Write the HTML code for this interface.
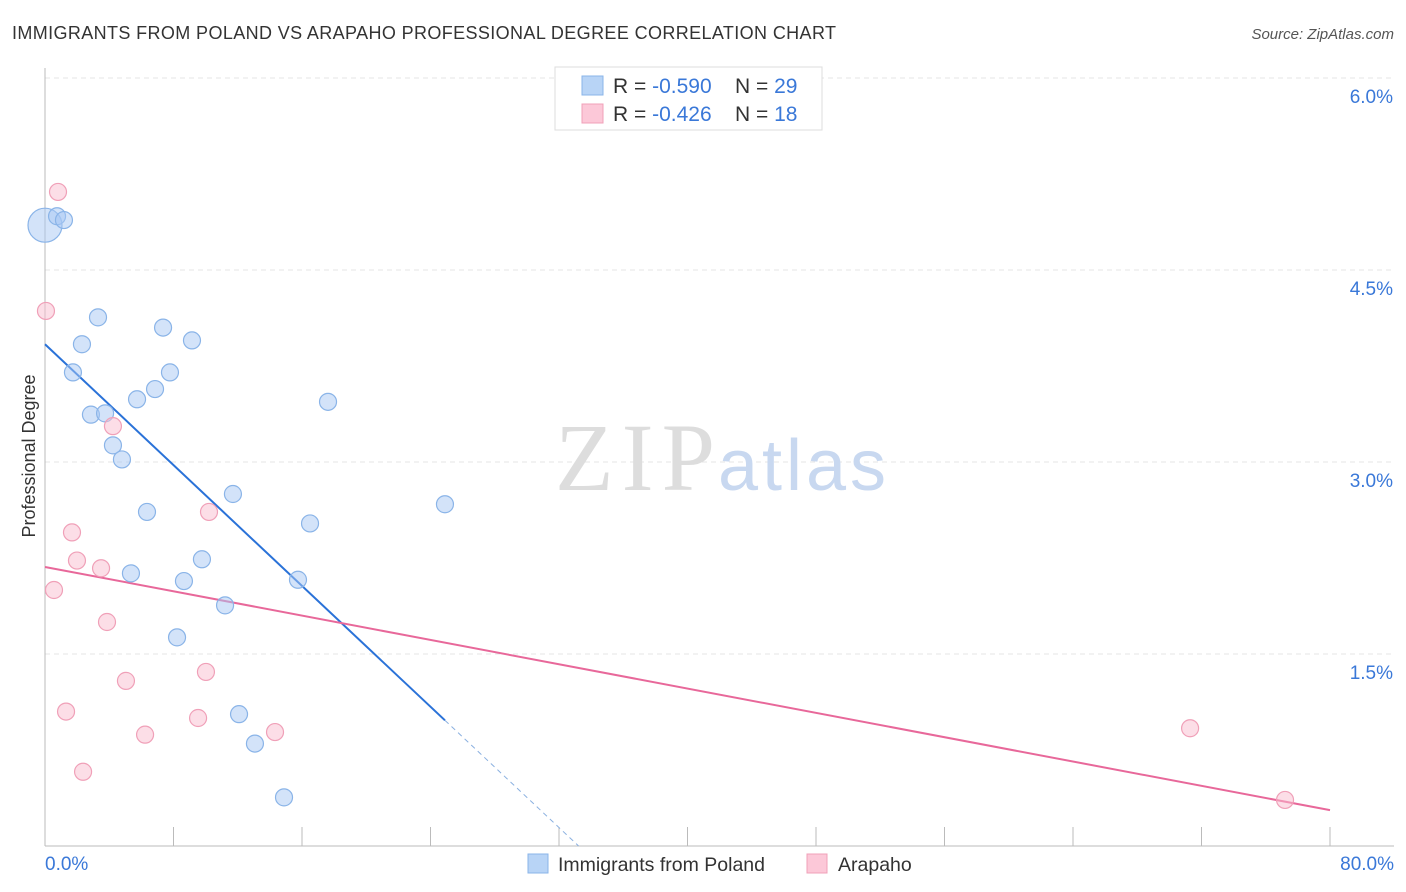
<!DOCTYPE html>
<html><head><meta charset="utf-8"><style>
body{margin:0;background:#fff;font-family:"Liberation Sans",sans-serif;}
svg{display:block}
</style></head><body>
<svg id="chart" width="1406" height="892">
<text x="12" y="39" font-size="18" fill="#333" textLength="824">IMMIGRANTS FROM POLAND VS ARAPAHO PROFESSIONAL DEGREE CORRELATION CHART</text>
<text x="1394" y="39" font-size="15" fill="#555" font-style="italic" text-anchor="end">Source: ZipAtlas.com</text>
<text x="35" y="456" font-size="18" fill="#333" text-anchor="middle" transform="rotate(-90 35 456)">Professional Degree</text>
<g id="grid"></g>
<text x="555" y="490" font-size="96" fill="#ddd" font-family="Liberation Serif,serif" textLength="160">ZIP</text>
<text x="718" y="490" font-size="72" fill="#c8d8f0" textLength="168">atlas</text>
<g id="lines"></g>
<g id="points"></g>
<g>
<rect x="555" y="67" width="267" height="63" fill="#fff" stroke="#ddd"/>
<rect x="582" y="76" width="21" height="19" fill="#b8d4f6" stroke="#8ab4e8"/>
<rect x="582" y="104" width="21" height="19" fill="#fcc8d8" stroke="#f0a0b8"/>
<text x="613" y="93" font-size="21" fill="#333">R = <tspan fill="#3a78d8">-0.590</tspan><tspan x="735">N = </tspan><tspan fill="#3a78d8">29</tspan></text>
<text x="613" y="121" font-size="21" fill="#333">R = <tspan fill="#3a78d8">-0.426</tspan><tspan x="735">N = </tspan><tspan fill="#3a78d8"> 18</tspan></text>
</g>
<g>
<rect x="528" y="854" width="20" height="19" fill="#b8d4f6" stroke="#8ab4e8"/>
<text x="558" y="871" font-size="19.5" fill="#333">Immigrants from Poland</text>
<rect x="807" y="854" width="20" height="19" fill="#fcc8d8" stroke="#f0a0b8"/>
<text x="838" y="871" font-size="19.5" fill="#333">Arapaho</text>
</g>
</svg>
<script>
const blueX=[0.0,0.75,1.18,3.30,2.30,7.35,9.15,1.74,7.78,6.85,5.73,2.86,3.74,4.23,4.79,17.62,11.70,6.35,24.90,16.50,9.77,5.35,8.65,15.75,11.21,8.22,12.08,13.07,14.88];
const blueY=[4.85,4.92,4.89,4.13,3.92,4.05,3.95,3.70,3.70,3.57,3.49,3.37,3.38,3.13,3.02,3.47,2.75,2.61,2.67,2.52,2.24,2.13,2.07,2.08,1.88,1.63,1.03,0.80,0.38];
const blueR=[17,8.5,8.5,8.5,8.5,8.5,8.5,8.5,8.5,8.5,8.5,8.5,8.5,8.5,8.5,8.5,8.5,8.5,8.5,8.5,8.5,8.5,8.5,8.5,8.5,8.5,8.5,8.5,8.5];
const pinkX=[0.81,0.06,4.23,10.21,1.68,1.99,3.49,0.56,3.86,10.02,5.04,1.31,9.53,6.23,14.32,2.37,71.29,77.20];
const pinkY=[5.11,4.18,3.28,2.61,2.45,2.23,2.17,2.00,1.75,1.36,1.29,1.05,1.00,0.87,0.89,0.58,0.92,0.36];
const yTicks=[1.5,3.0,4.5,6.0];
const blueLine=[3.92,-0.118,24.9];
const pinkLine=[2.18,-0.02375];
const NS="http://www.w3.org/2000/svg";
const sx=v=>45+v*1285/80, sy=v=>846-v*128;
function mk(t,a,p){const e=document.createElementNS(NS,t);for(const k in a)e.setAttribute(k,a[k]);p.appendChild(e);return e;}
const g=document.getElementById('grid');
yTicks.forEach(t=>{
 const l=mk('line',{x1:45,x2:1394,y1:sy(t),y2:sy(t),stroke:'#e4e4e4','stroke-dasharray':'5,4'},g);
 
 
 const tx=mk('text',{x:1393,y:sy(t)+25,'font-size':19,fill:'#3a78d8','text-anchor':'end'},g);
 tx.textContent=t.toFixed(1)+'%';
 
 
});
const ax=mk('line',{x1:45,x2:1394,y1:846,y2:846,stroke:'#bbb'},g);


const ay=mk('line',{x1:45,x2:45,y1:68,y2:846,stroke:'#bbb'},g);


for(let i=1;i<=10;i++){const tk=mk('line',{x1:sx(i*8),x2:sx(i*8),y1:827,y2:846,stroke:'#bbb'},g);
 
 }
const x0=mk('text',{x:45,y:870,'font-size':19,fill:'#3a78d8'},g);x0.textContent='0.0%';


const x1=mk('text',{x:1394,y:870,'font-size':19,fill:'#3a78d8','text-anchor':'end'},g);x1.textContent='80.0%';


const L=document.getElementById('lines');
const bz=-blueLine[0]/blueLine[1];
const bl=mk('line',{x1:sx(0),y1:sy(blueLine[0]),x2:sx(blueLine[2]),y2:sy(blueLine[0]+blueLine[1]*blueLine[2]),stroke:'#2a72d8','stroke-width':2},L);


const bd=mk('line',{x1:sx(blueLine[2]),y1:sy(blueLine[0]+blueLine[1]*blueLine[2]),x2:sx(bz),y2:sy(0),stroke:'#8ab0e0','stroke-width':1,'stroke-dasharray':'5,4'},L);


const pl=mk('line',{x1:sx(0),y1:sy(pinkLine[0]),x2:sx(80),y2:sy(pinkLine[0]+pinkLine[1]*80),stroke:'#e8689a','stroke-width':2},L);


const P=document.getElementById('points');
blueX.forEach((v,i)=>{const c=mk('circle',{cx:sx(v),cy:sy(blueY[i]),r:blueR[i],fill:'rgba(168,200,244,0.5)',stroke:'#8ab4e8','stroke-width':1.2},P);
 
 });
pinkX.forEach((v,i)=>{const c=mk('circle',{cx:sx(v),cy:sy(pinkY[i]),r:8.5,fill:'rgba(250,190,208,0.5)',stroke:'#f0a0b8','stroke-width':1.2},P);
 
 });
</script>
</body></html>
